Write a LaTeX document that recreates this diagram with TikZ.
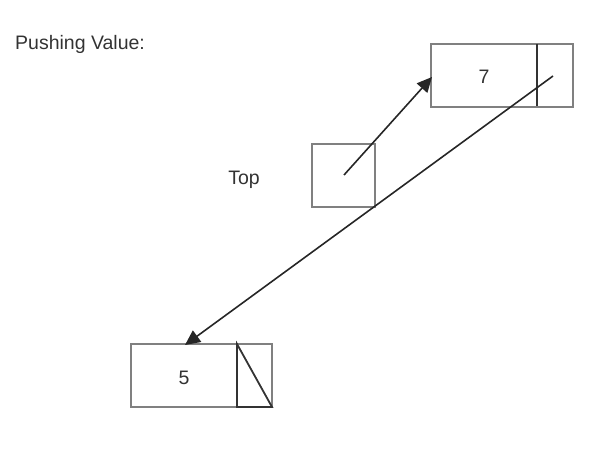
\documentclass[tikz,border=0pt]{standalone}
\usepackage{fontspec}
\setmainfont{Liberation Sans}
\usetikzlibrary{arrows.meta}
\begin{document}
\begin{tikzpicture}[x=1pt,y=-1pt,
  cell/.style={draw=black!50, line width=1.3pt, minimum width=#1, minimum height=63pt, inner sep=0pt, outer sep=0pt},
  lbl/.style={font=\fontsize{19.5}{22}\selectfont, text=black!80, inner sep=0pt},
  ptr/.style={draw=black!85, line width=1.6pt, -{Triangle[length=15pt,width=14pt]}},
  dark/.style={draw=black!80, line width=1.8pt}]
\useasboundingbox (0,0) rectangle (604,454);
\node[lbl, anchor=west] (title) at (15,44) {Pushing Value:};
\node[lbl] (toplbl) at (244,180) {Top};
% Top box
\node[cell=63pt, anchor=north west] (top) at (312,144) {};
% node 7
\node[cell=142pt, anchor=north west] (seven) at (431,44) {};
\node[lbl] (sevenlbl) at (484,77) {7};
\coordinate (sdivt) at (537,44);
\coordinate (sdivb) at (537,106);
\draw[dark] (sdivt) -- (sdivb);
% node 5
\node[cell=141pt, anchor=north west] (five) at (131,344) {};
\node[lbl] (fivelbl) at (184,378) {5};
\coordinate (fdivt) at (237,344);
\coordinate (fdivb) at (237,407);
\coordinate (fbr) at (272,407);
\draw[dark] (fdivt) -- (fdivb) -- (fbr) -- cycle;
% pointers
\coordinate (topsrc) at (344,175);
\coordinate (seventgt) at (432,77);
\draw[ptr] (topsrc) -- (seventgt);
\coordinate (sevensrc) at (553,76);
\coordinate (fivetgt) at (185,345);
\draw[ptr] (sevensrc) -- (fivetgt);
\end{tikzpicture}
\end{document}
